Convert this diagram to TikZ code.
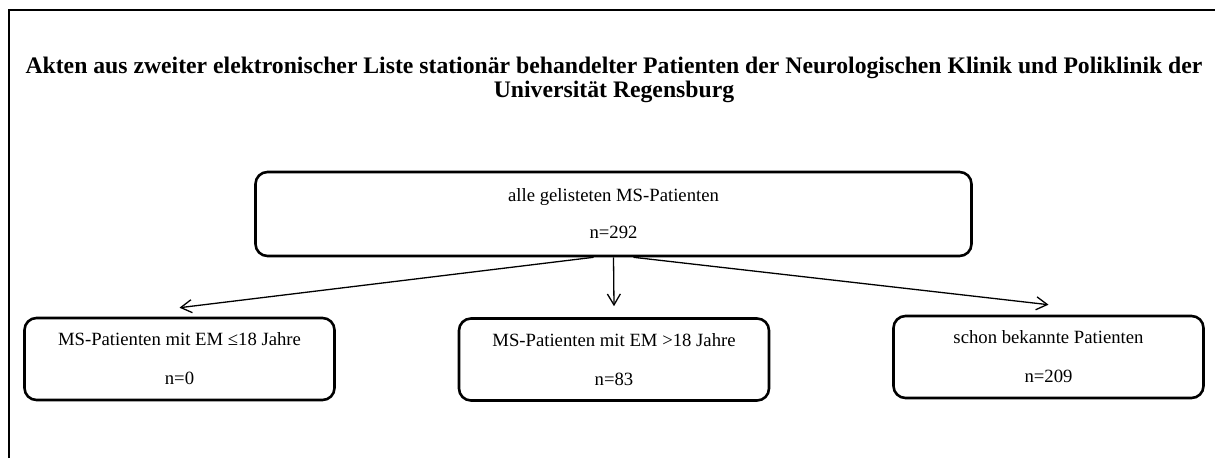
\documentclass[tikz,border=0pt]{standalone}
\usepackage{fontspec}
\setmainfont{Liberation Serif}
\usepackage{tikz}
\usetikzlibrary{arrows.meta,positioning}
\tikzstyle{block} = [draw, rectangle, rounded corners=12pt, line width=2.6pt,
    minimum height=82pt, minimum width=310pt, align=center,
    font=\fontsize{18.7}{21}\selectfont]
\tikzstyle{link} = [-{Straight Barb[length=11pt,width=13pt]}, line width=1.3pt]

\begin{document}
\begin{tikzpicture}[x=1pt, y=-1pt]
        \useasboundingbox (0,0) rectangle (1215,458);
        \draw[line width=2pt] (9,458) -- (9,10) -- (1215,10);

        \node[name=title, align=center, font=\bfseries\fontsize{23.7}{24}\selectfont] at (614,80)
            {Akten aus zweiter elektronischer Liste stationär behandelter Patienten der Neurologischen Klinik und Poliklinik der\\Universität Regensburg};

        \node[block, minimum width=716pt, minimum height=84pt, name=all] at (613.5,214) {alle gelisteten MS-Patienten\\[16pt]n=292};
        \node[block, name=young] at (179.5,359) {MS-Patienten mit EM ≤18 Jahre\\[18pt]n=0};
        \node[block, name=adult] at (614,359.5) {MS-Patienten mit EM >18 Jahre\\[18pt]n=83};
        \node[block, name=known] at (1048.5,357) {schon bekannte Patienten\\[18pt]n=209};

        \draw[link] ([xshift=-20pt]all.south) -- ([yshift=9pt]young.north);
        \draw[link] (all.south) -- ([yshift=11pt]adult.north);
        \draw[link] ([xshift=20pt]all.south) -- ([yshift=10pt]known.north);
\end{tikzpicture}
\end{document}
